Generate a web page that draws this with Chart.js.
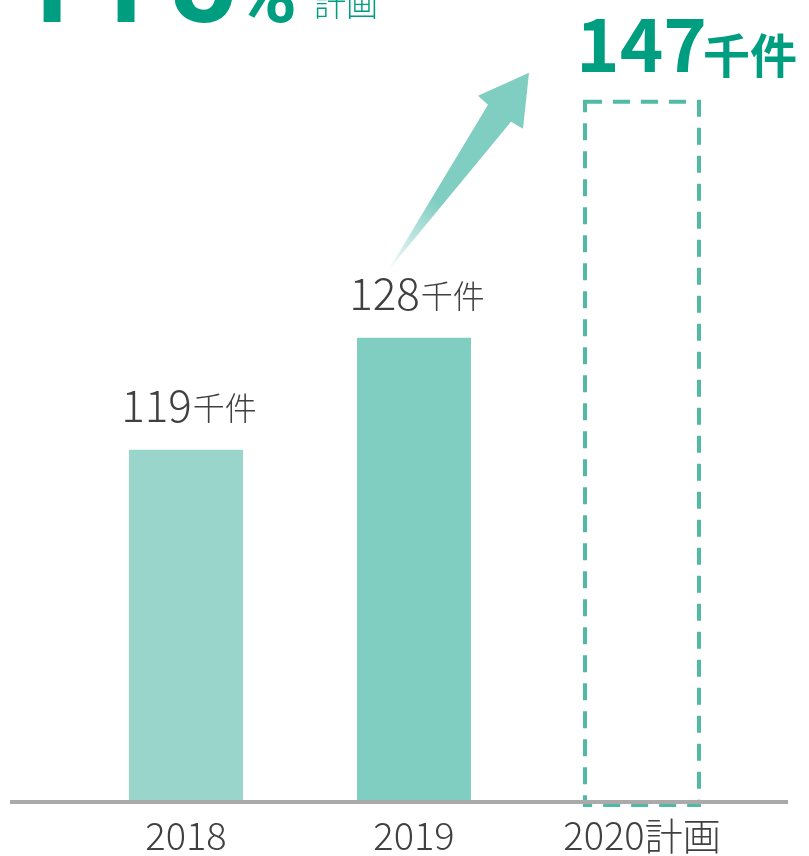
<!DOCTYPE html>
<html>
<head>
<meta charset="utf-8">
<script src="https://cdn.jsdelivr.net/npm/chart.js@4.4.1/dist/chart.umd.min.js"></script>
<style>
  html, body { margin: 0; padding: 0; background: #ffffff; }
  #wrap { width: 809px; height: 856px; position: relative; }
</style>
</head>
<body>
<div id="wrap"><canvas id="c" width="809" height="856"></canvas></div>
<script>
// ---- data ----
const categories = ['2018', '2019', '2020計画'];
const values = [119, 128, 147];
const unitLabel = '千件';
const planFlags = [false, false, true];
const growthChars = ['1', '1', '5', '%'];
const growthNote = '計画';

// ---- styles ----
const barColors = ['#99d5ca', '#80cdc2', 'rgba(0,0,0,0)'];
const dashColor = '#52b9a5';
const accent = '#009e80';
const textGray = '#404040';
const FONT = '"Noto Sans CJK JP", "Noto Sans", sans-serif';
const HEAD_FONT = 'Roboto, "Noto Sans", sans-serif';

function drawAxisLine(chart) {
  const ctx = chart.ctx;
  const y = chart.scales.y;
  ctx.save();
  ctx.strokeStyle = '#aaaaaa';
  ctx.lineWidth = 4;
  ctx.beginPath();
  ctx.moveTo(10, y.bottom);
  ctx.lineTo(788, y.bottom);
  ctx.stroke();
  ctx.restore();
}

const decorPlugin = {
  id: 'decor',
  afterDatasetsDraw(chart) {
    const ctx = chart.ctx;
    const meta = chart.getDatasetMeta(0);
    const yScale = chart.scales.y;
    // dashed plan bar
    meta.data.forEach((bar, i) => {
      if (!planFlags[i]) return;
      const p = bar.getProps(['x', 'y', 'width'], true);
      const bottom = yScale.bottom + 3;
      ctx.save();
      ctx.strokeStyle = dashColor;
      ctx.lineWidth = 4;
      ctx.setLineDash([17, 11]);
      ctx.strokeRect(p.x - p.width / 2, p.y, p.width, bottom - p.y);
      ctx.restore();
    });
    drawAxisLine(chart);

    // value labels for actual bars
    meta.data.forEach((bar, i) => {
      if (planFlags[i]) return;
      const p = bar.getProps(['x', 'y'], true);
      const num = String(values[i]);
      ctx.save();
      ctx.fillStyle = textGray;
      ctx.textBaseline = 'alphabetic';
      ctx.textAlign = 'left';
      ctx.font = '300 44px ' + FONT;
      const w1 = ctx.measureText(num).width;
      ctx.font = '300 32px ' + FONT;
      const w2 = ctx.measureText(unitLabel).width;
      const left = p.x + 3 - (w1 + w2 + 1) / 2;
      ctx.font = '300 44px ' + FONT;
      ctx.fillText(num, left, p.y - 28);
      ctx.font = '300 32px ' + FONT;
      ctx.fillText(unitLabel, left + w1 + 1, p.y - 30);
      ctx.restore();
    });

    // plan value label (big, bold)
    meta.data.forEach((bar, i) => {
      if (!planFlags[i]) return;
      const p = bar.getProps(['x', 'y', 'width'], true);
      const left = p.x - p.width / 2 - 9;
      ctx.save();
      ctx.fillStyle = accent;
      ctx.textBaseline = 'alphabetic';
      ctx.textAlign = 'left';
      ctx.font = 'bold 74px ' + FONT;
      ctx.fillText(String(values[i]), left, p.y - 30);
      ctx.font = 'bold 47px ' + FONT;
      ctx.fillText(unitLabel, left + 127, p.y - 29);
      ctx.restore();
    });

    // growth arrow from 2019 label to plan bar
    const b19 = meta.data[1].getProps(['x', 'y'], true);
    const b20 = meta.data[2].getProps(['x', 'y', 'width'], true);
    const tail = { x: b19.x - 26, y: b19.y - 67 };
    const tip = { x: b20.x - b20.width / 2 - 56, y: b20.y - 29 };
    const pts = [
      tail,
      { x: tip.x - 18, y: tip.y + 49 },
      { x: tip.x - 6, y: tip.y + 56 },
      tip,
      { x: tip.x - 51, y: tip.y + 23 },
      { x: tip.x - 41, y: tip.y + 32 }
    ];
    ctx.save();
    const g = ctx.createLinearGradient(tail.x, tail.y, tip.x, tip.y);
    g.addColorStop(0, 'rgba(128,205,194,0.05)');
    g.addColorStop(0.35, 'rgba(128,205,194,1)');
    g.addColorStop(1, 'rgba(128,205,194,1)');
    ctx.fillStyle = g;
    ctx.beginPath();
    ctx.moveTo(pts[0].x, pts[0].y);
    for (let k = 1; k < pts.length; k++) ctx.lineTo(pts[k].x, pts[k].y);
    ctx.closePath();
    ctx.fill();
    ctx.restore();

    // top-left growth headline (cropped at top)
    ctx.save();
    ctx.fillStyle = accent;
    ctx.textBaseline = 'alphabetic';
    ctx.textAlign = 'center';
    const centers = [48, 122, 203, 266];
    growthChars.forEach((ch, k) => {
      ctx.font = (ch === '%' ? 'bold 84px ' : 'bold 120px ') + HEAD_FONT;
      ctx.fillText(ch, centers[k], 22);
    });
    ctx.textAlign = 'left';
    ctx.font = '300 32px ' + FONT;
    ctx.fillText(growthNote, 314, 16);
    ctx.restore();
  }
};

new Chart(document.getElementById('c'), {
  type: 'bar',
  data: {
    labels: categories,
    datasets: [{
      data: values,
      backgroundColor: barColors,
      borderWidth: 0,
      categoryPercentage: 1.0,
      barPercentage: 0.5
    }]
  },
  options: {
    responsive: false,
    devicePixelRatio: 1,
    animation: false,
    layout: { padding: { left: 72, right: 53, top: 0, bottom: 1 } },
    plugins: { legend: { display: false }, tooltip: { enabled: false } },
    scales: {
      y: {
        display: false,
        min: 90.63,
        max: 155.2
      },
      x: {
        grid: { display: false, drawTicks: false },
        border: { display: false },
        afterFit: (scale) => { scale.height = 53; },
        ticks: {
          color: textGray,
          padding: 15,
          font: { family: FONT, size: 38, weight: '300', lineHeight: 1 }
        }
      }
    }
  },
  plugins: [decorPlugin]
});
</script>
</body>
</html>
